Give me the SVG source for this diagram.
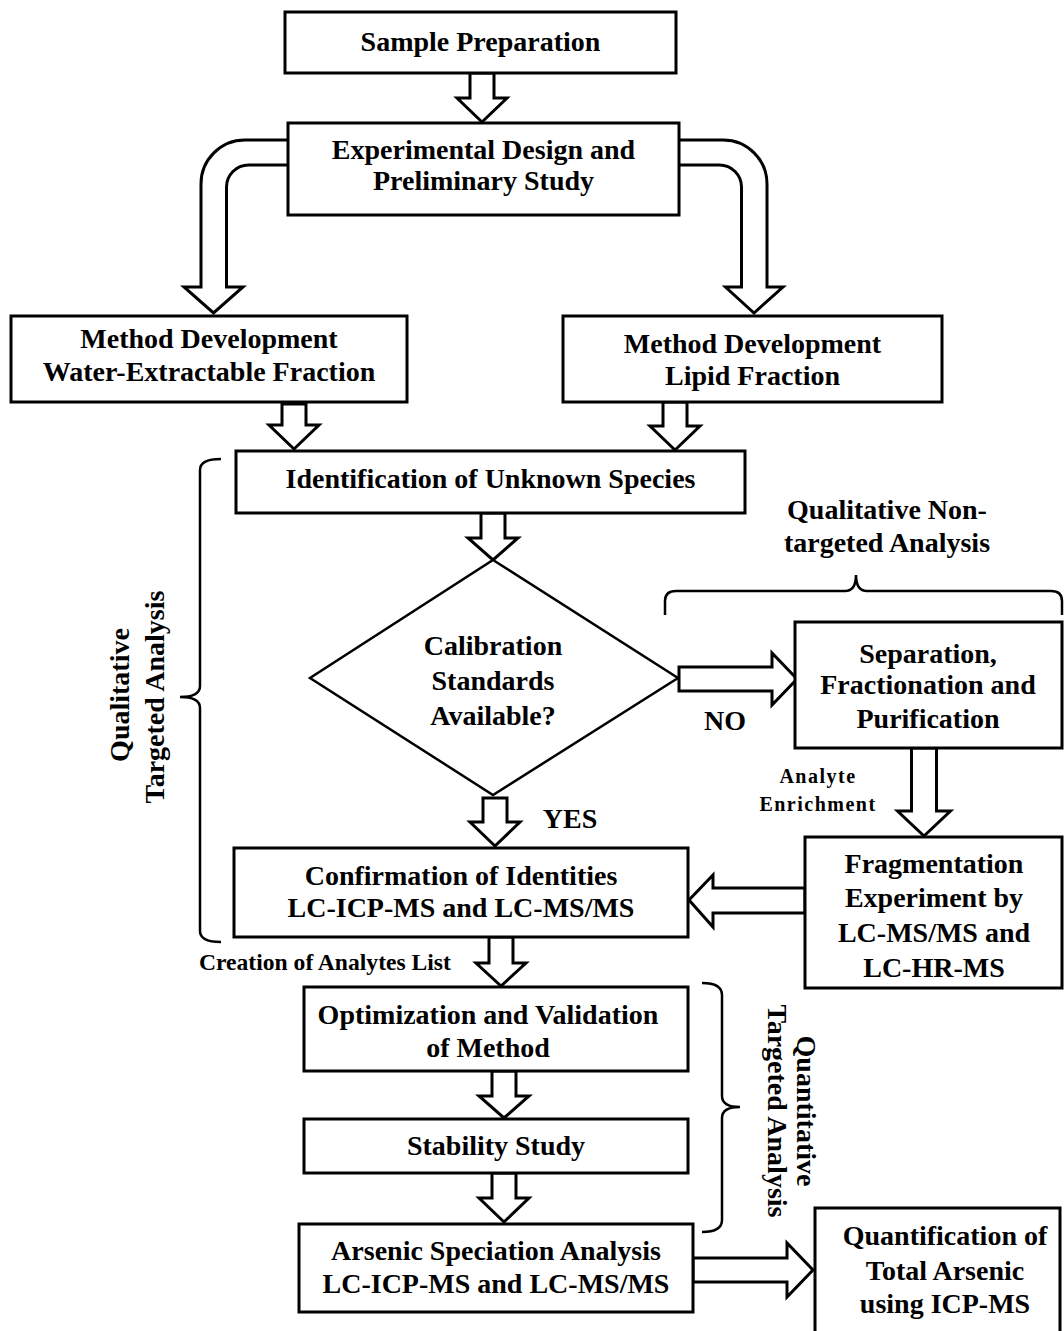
<svg xmlns="http://www.w3.org/2000/svg" width="1064" height="1331" viewBox="0 0 1064 1331">
<style>
.box{fill:#fff;stroke:#000;stroke-width:3}
.dia{fill:#fff;stroke:#000;stroke-width:2.5;stroke-linejoin:miter}
.arr{fill:#fff;stroke:#000;stroke-width:3;stroke-linejoin:miter}
.brace{fill:none;stroke:#000;stroke-width:2.5}
.t{font-family:"Liberation Serif","Times New Roman",serif;font-weight:bold;font-size:28px;text-anchor:middle;fill:#000}
.s{font-size:20px;letter-spacing:1.5px}
.c{font-size:23.6px;text-anchor:start}
</style>
<rect width="1064" height="1331" fill="#fff"/>
<g id="connectors">
<path class="arr" d="M288 140 H245 A44 44 0 0 0 201 184 V287 H184 L213.5 313 L243 287 H226.5 V187 A22 22 0 0 1 248.5 165 H288"/>
<path class="arr" d="M679 140 H723 A44 44 0 0 1 767 184 V287 H783 L754 313 L725.5 287 H741.5 V187 A22 22 0 0 0 719.5 165 H679"/>
<polygon class="arr" points="470,73 494,73 494,98 507,98 482,122 457,98 470,98"/>
<polygon class="arr" points="282,404 306,404 306,425 319,425 294,449 269,425 282,425"/>
<polygon class="arr" points="663,402 687,402 687,426 700,426 675,450 650,426 663,426"/>
<polygon class="arr" points="481,513 505,513 505,538 518,538 493,560 468,538 481,538"/>
<polygon class="arr" points="483,798 507,798 507,822 520,822 495,846 470,822 483,822"/>
<polygon class="arr" points="489,937 513,937 513,963 526,963 501,986 476,963 489,963"/>
<polygon class="arr" points="492,1071 516,1071 516,1096 529,1096 504,1118 479,1096 492,1096"/>
<polygon class="arr" points="492,1173 516,1173 516,1198 529,1198 504,1222 479,1198 492,1198"/>
<polygon class="arr" points="911.5,748 936.5,748 936.5,811 950.5,811 924,836 897.5,811 911.5,811"/>
<polygon class="arr" points="679,667 772,667 772,653 797,679 772,705 772,691 679,691"/>
<polygon class="arr" points="693,1258 787,1258 787,1243 813,1270 787,1297 787,1282 693,1282"/>
<polygon class="arr" points="805,888 713,888 713,875 689,900 713,927 713,913 805,913"/>
</g>
<g id="braces">
<path class="brace" d="M221 459 Q200 459 200 470 V686 Q200 697 180 697 Q200 697 200 708 V931 Q200 942 221 942"/>
<path class="brace" d="M665 615 V601 Q665 591 676 591 H845 Q856 591 856 575 Q856 591 867 591 H1051 Q1062 591 1062 601 V615"/>
<path class="brace" d="M702 983 Q722 983 722 995 V1096 Q722 1107 740 1107 Q722 1107 722 1118 V1220 Q722 1232 702 1232"/>
</g>
<g id="n-sample">
<rect class="box" x="285" y="12" width="391" height="61"/>
<text class="t" x="480.5" y="51">Sample Preparation</text>
</g>
<g id="n-design">
<rect class="box" x="288" y="123" width="391" height="92"/>
<text class="t" x="483.5" y="159">Experimental Design and</text>
<text class="t" x="483.5" y="190">Preliminary Study</text>
</g>
<g id="n-water">
<rect class="box" x="11" y="316" width="396" height="86"/>
<text class="t" x="209" y="348">Method Development</text>
<text class="t" x="209" y="381">Water-Extractable Fraction</text>
</g>
<g id="n-lipid">
<rect class="box" x="563" y="316" width="379" height="86"/>
<text class="t" x="752.5" y="353">Method Development</text>
<text class="t" x="752.5" y="385">Lipid Fraction</text>
</g>
<g id="n-ident">
<rect class="box" x="236" y="451" width="509" height="62"/>
<text class="t" x="490.5" y="488">Identification of Unknown Species</text>
</g>
<g id="n-calib">
<polygon class="dia" points="493,560 678,678 493,795 310,678"/>
<text class="t" x="493" y="655">Calibration</text>
<text class="t" x="493" y="690">Standards</text>
<text class="t" x="493" y="725">Available?</text>
</g>
<g id="n-separation">
<rect class="box" x="795" y="622" width="267" height="126"/>
<text class="t" x="928" y="663">Separation,</text>
<text class="t" x="928" y="694">Fractionation and</text>
<text class="t" x="928" y="728">Purification</text>
</g>
<g id="n-fragment">
<rect class="box" x="805" y="837" width="257" height="151"/>
<text class="t" x="934" y="873">Fragmentation</text>
<text class="t" x="934" y="907">Experiment by</text>
<text class="t" x="934" y="942">LC-MS/MS and</text>
<text class="t" x="934" y="977">LC-HR-MS</text>
</g>
<g id="n-confirm">
<rect class="box" x="234" y="848" width="454" height="89"/>
<text class="t" x="461" y="885">Confirmation of Identities</text>
<text class="t" x="461" y="917">LC-ICP-MS and LC-MS/MS</text>
</g>
<g id="n-optim">
<rect class="box" x="304" y="987" width="384" height="84"/>
<text class="t" x="488" y="1024">Optimization and Validation</text>
<text class="t" x="488" y="1057">of Method</text>
</g>
<g id="n-stability">
<rect class="box" x="304" y="1119" width="384" height="54"/>
<text class="t" x="496" y="1155">Stability Study</text>
</g>
<g id="n-arsenic">
<rect class="box" x="299" y="1224" width="394" height="88"/>
<text class="t" x="496" y="1260">Arsenic Speciation Analysis</text>
<text class="t" x="496" y="1293">LC-ICP-MS and LC-MS/MS</text>
</g>
<g id="n-quant">
<rect class="box" x="815" y="1208" width="245" height="135"/>
<text class="t" x="945" y="1245">Quantification of</text>
<text class="t" x="945" y="1280">Total Arsenic</text>
<text class="t" x="945" y="1313">using ICP-MS</text>
</g>
<g id="labels">
<text class="t" x="887" y="519">Qualitative Non-</text>
<text class="t" x="887" y="552">targeted Analysis</text>
<text class="t" x="725" y="730">NO</text>
<text class="t" x="570" y="828">YES</text>
<text class="t s" x="818" y="783">Analyte</text>
<text class="t s" x="818" y="811">Enrichment</text>
<text class="t c" x="199" y="970">Creation of Analytes List</text>
<text class="t" transform="translate(129,695) rotate(-90)">Qualitative</text>
<text class="t" transform="translate(164,697) rotate(-90)">Targeted Analysis</text>
<text class="t" transform="translate(797,1111) rotate(90)">Quantitative</text>
<text class="t" transform="translate(768,1111) rotate(90)">Targeted Analysis</text>
</g>
</svg>
